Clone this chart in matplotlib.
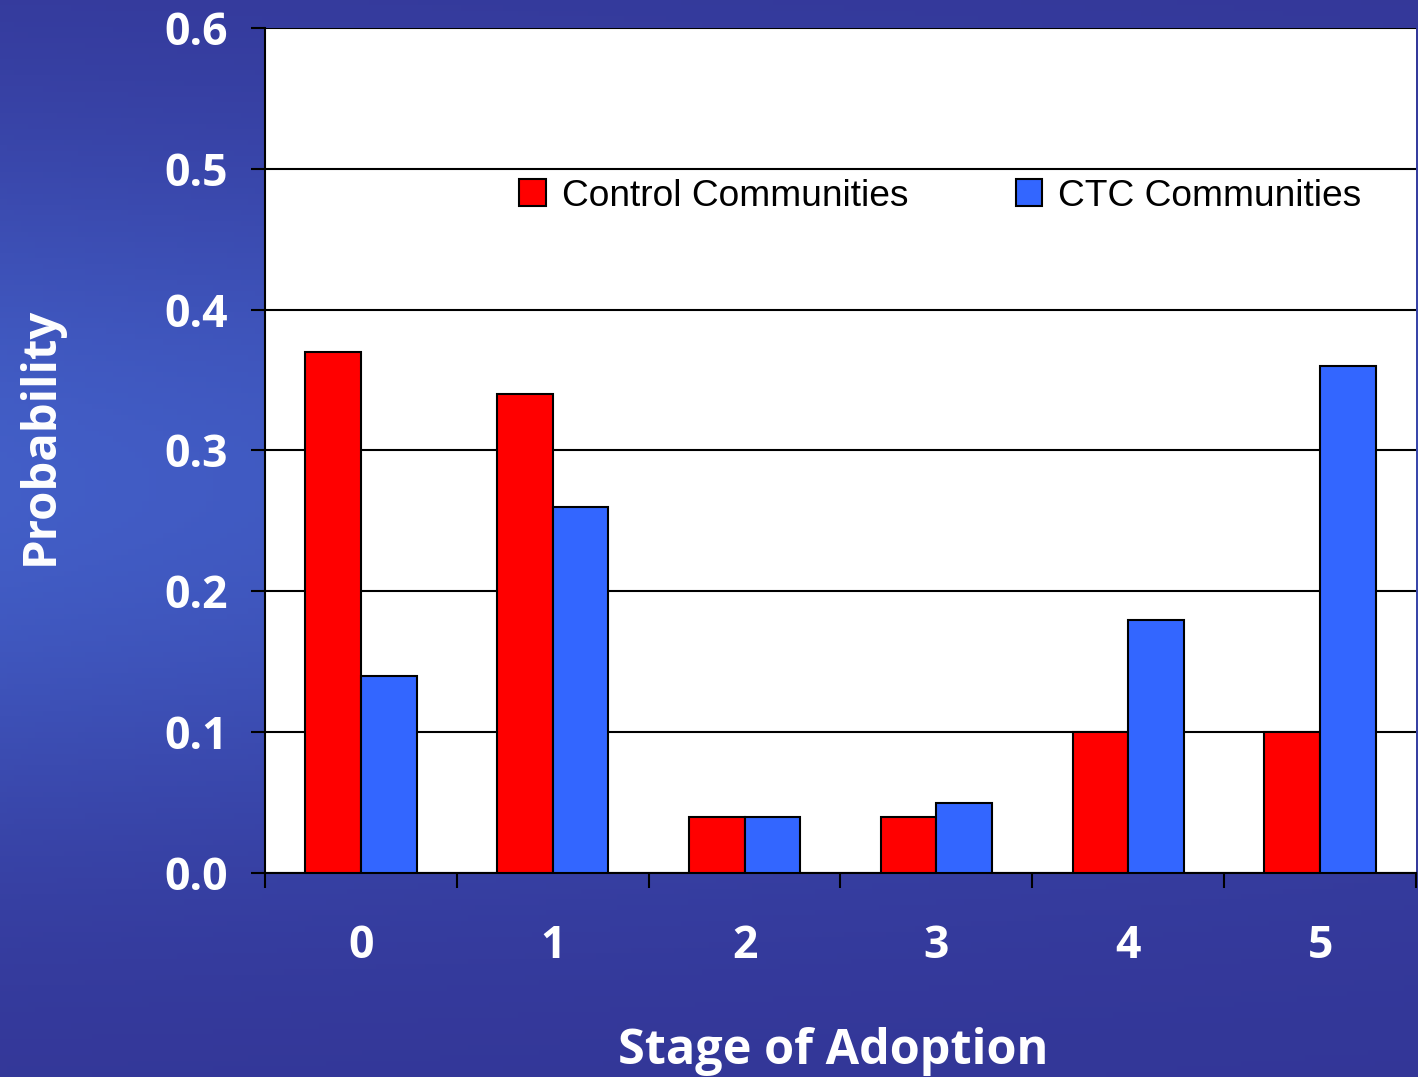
import matplotlib.pyplot as plt
import numpy as np

# data
stages = ["0", "1", "2", "3", "4", "5"]
control = [0.37, 0.34, 0.04, 0.04, 0.10, 0.10]
ctc = [0.14, 0.26, 0.04, 0.05, 0.18, 0.36]
yticks = [0.0, 0.1, 0.2, 0.3, 0.4, 0.5, 0.6]

fig = plt.figure(figsize=(14.18, 10.77), dpi=100)

# blue gradient background
bg = fig.add_axes([0, 0, 1, 1], zorder=-10)
yy, xx = np.mgrid[0:1:200j, 0:1:200j]
light = np.exp(-((yy - 0.45) / 0.33) ** 2) * (1 - 0.55 * xx)
top = np.array([0.20, 0.21, 0.59])
mid = np.array([0.26, 0.37, 0.78])
img = top[None, None, :] + (mid - top)[None, None, :] * light[:, :, None]
bg.imshow(img, aspect="auto", extent=[0, 1, 0, 1], origin="upper")
bg.axis("off")

ax = fig.add_axes([265 / 1418, 1 - 873 / 1077, 1151 / 1418, 845 / 1077])
x = np.arange(len(stages))
w = 0.29
ax.bar(x - w / 2, control, w, color="#ff0000", edgecolor="black", linewidth=1.5,
       label="Control Communities", zorder=3)
ax.bar(x + w / 2, ctc, w, color="#3366ff", edgecolor="black", linewidth=1.5,
       label="CTC Communities", zorder=3)

ax.set_xlim(-0.5, 5.5)
ax.set_ylim(0, 0.6)
ax.set_yticks(yticks)
ax.set_yticklabels(["%.1f" % v for v in yticks])
ax.set_xticks(x)
ax.set_xticklabels(stages)
ax.set_xticks(np.arange(-0.5, 6, 1), minor=True)
ax.tick_params(axis="x", which="major", length=0, pad=37, labelsize=32, labelcolor="white")
ax.tick_params(axis="x", which="minor", length=11, width=1.5, direction="out")
ax.tick_params(axis="y", length=10, width=1.5, pad=17, labelsize=32, labelcolor="white")
for lab in ax.get_xticklabels() + ax.get_yticklabels():
    lab.set_fontweight("bold")
    lab.set_family("Open Sans")

ax.grid(axis="y", color="black", linewidth=1.5, zorder=0)
for s in ["top", "right"]:
    ax.spines[s].set_visible(False)
ax.spines["left"].set_linewidth(1.5)
ax.spines["bottom"].set_linewidth(1.5)

ax.legend(loc="center left", bbox_to_anchor=(0.221, 0.801), ncol=2, frameon=False,
          prop={"family": "Liberation Sans", "size": 26.7}, handlelength=0.72,
          handleheight=0.75, handletextpad=0.42, columnspacing=2.9,
          borderpad=0, borderaxespad=0)

fig.text(40 / 1418, 1 - 436 / 1077, "Probability", rotation=90, color="white",
         fontsize=34, fontweight="bold", family="Open Sans", ha="center", va="center")
fig.text(833 / 1418, 1 - 1052 / 1077, "Stage of Adoption", color="white",
         fontsize=35, fontweight="bold", family="Open Sans", ha="center", va="center")

fig.savefig("out.png", dpi=100)
